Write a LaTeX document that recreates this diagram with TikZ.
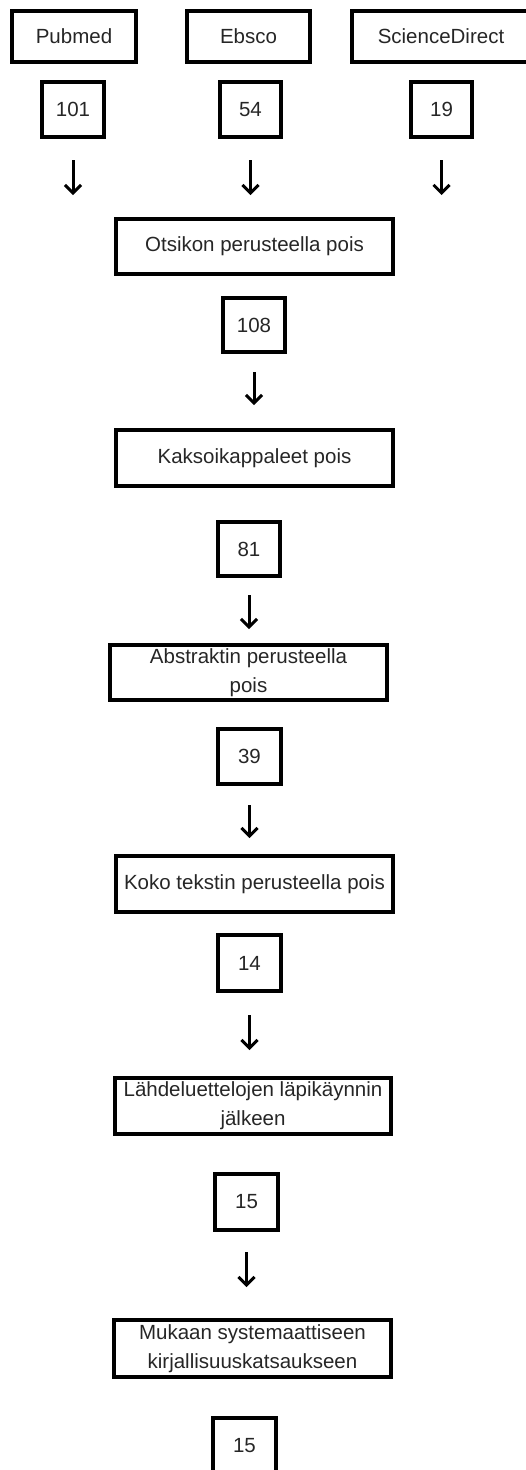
\documentclass[tikz,border=0pt]{standalone}
\usepackage{fontspec}
\setmainfont{Liberation Sans}
\usetikzlibrary{arrows.meta}

\tikzset{
  laatikko/.style={draw, line width=4pt, inner sep=0pt, align=center,
    text=black!85, font=\fontsize{20.5}{29}\selectfont},
  nuoli/.style={line width=3pt, -{Straight Barb[length=8pt,width=16pt]}}
}

\begin{document}
\begin{tikzpicture}[x=1pt,y=-1pt]
\useasboundingbox (0,0) rectangle (526,1470);
\clip (0,0) rectangle (526,1470);
% tietokannat
\node[laatikko, minimum width=124pt, minimum height=51pt] (pubmed) at (74,36.5) {Pubmed};
\node[laatikko, minimum width=123pt, minimum height=51pt] (ebsco) at (248.5,36.5) {Ebsco};
\node[laatikko, minimum width=178pt, minimum height=51pt] (sciencedirect) at (441,36.5) {ScienceDirect};
\node[laatikko, minimum width=62pt, minimum height=55pt] (npub) at (73,109.5) {101};
\node[laatikko, minimum width=61pt, minimum height=55pt] (nebs) at (250.5,109.5) {54};
\node[laatikko, minimum width=61pt, minimum height=55pt] (nsd) at (441.5,109.5) {19};
% karsinta
\node[laatikko, minimum width=277pt, minimum height=55pt] (otsikko) at (254.5,246.5) {Otsikon perusteella pois};
\node[laatikko, minimum width=62pt, minimum height=54pt] (n108) at (254,325) {108};
\node[laatikko, minimum width=277pt, minimum height=56pt] (kaksoi) at (254.5,458) {Kaksoikappaleet pois};
\node[laatikko, minimum width=62pt, minimum height=54pt] (n81) at (249,549) {81};
\node[laatikko, minimum width=277pt, minimum height=55pt] (abstrakti) at (248.5,672.5) {Abstraktin perusteella\\pois};
\node[laatikko, minimum width=63pt, minimum height=55pt] (n39) at (249.5,756.5) {39};
\node[laatikko, minimum width=277pt, minimum height=56pt] (koko) at (254.5,884) {Koko tekstin perusteella pois};
\node[laatikko, minimum width=63pt, minimum height=56pt] (n14) at (249.5,963) {14};
\node[laatikko, minimum width=276pt, minimum height=56pt] (lahde) at (253,1106) {Lähdeluettelojen läpikäynnin\\jälkeen};
\node[laatikko, minimum width=63pt, minimum height=56pt] (n15a) at (246.5,1202) {15};
\node[laatikko, minimum width=277pt, minimum height=57pt] (mukaan) at (252.5,1348.5) {Mukaan systemaattiseen\\kirjallisuuskatsaukseen};
\node[laatikko, minimum width=63pt, minimum height=55pt] (n15b) at (244.5,1445.5) {15};
% nuolet
\foreach \a/\b/\s/\e in {npub/otsikko/21/22, nebs/otsikko/21/22, nsd/otsikko/21/22,
    n108/kaksoi/18/23, n81/abstrakti/17/14, n39/koko/19/16, n14/lahde/22/26, n15a/mukaan/20/31}
  \draw[nuoli, shorten <=\s pt, shorten >=\e pt] (\a.south) -- (\a.south |- \b.north);
\end{tikzpicture}
\end{document}
